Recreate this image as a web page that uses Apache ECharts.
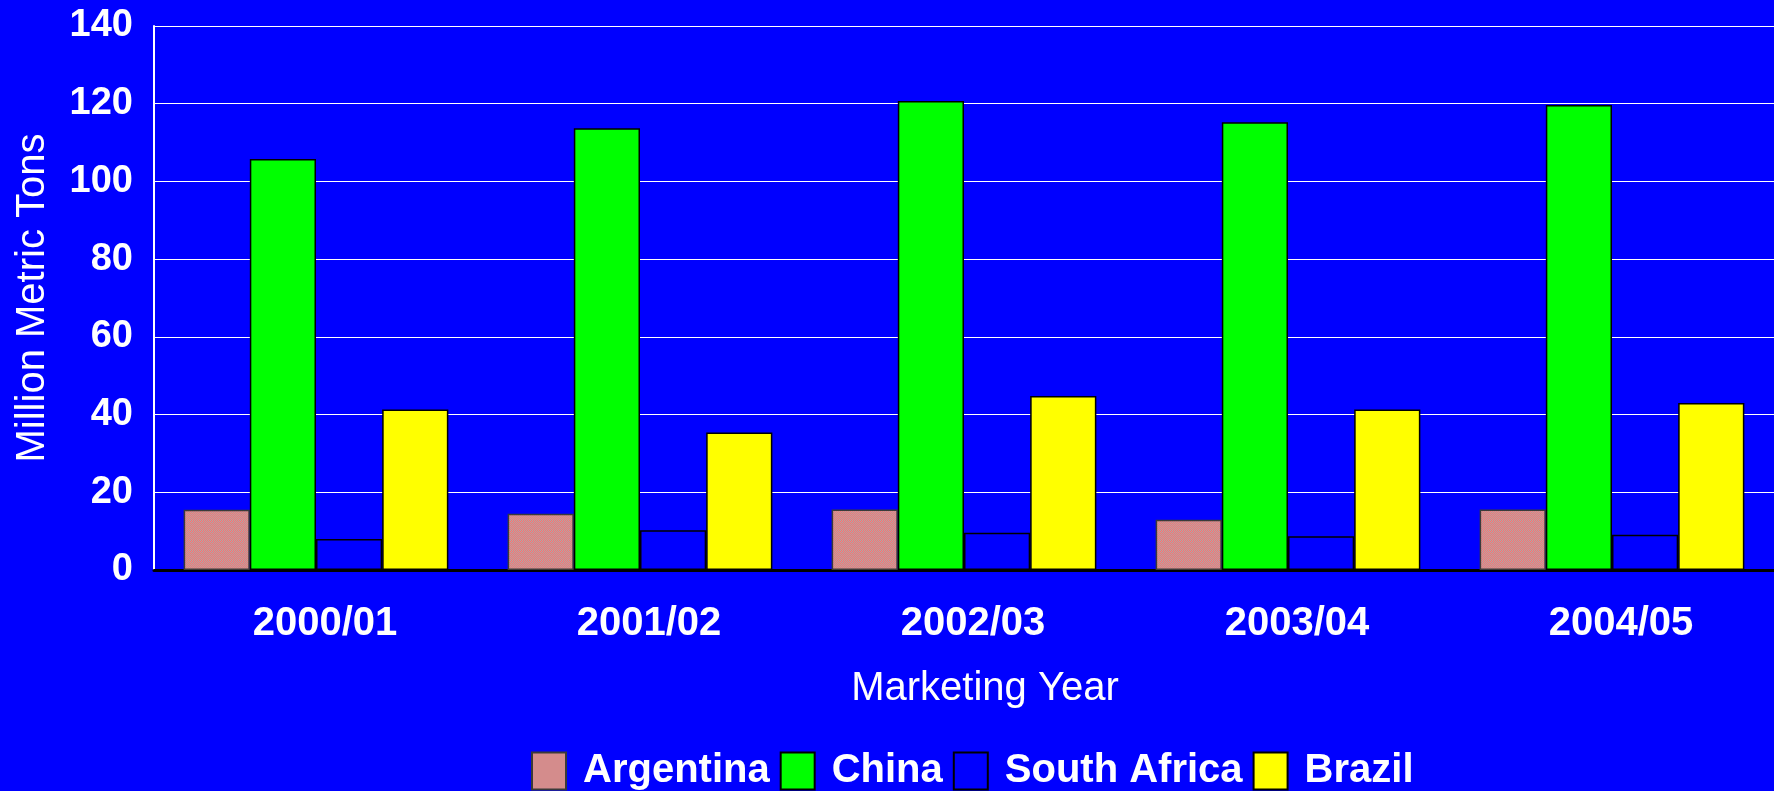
<!DOCTYPE html>
<html>
<head>
<meta charset="utf-8">
<script src="https://cdn.jsdelivr.net/npm/echarts@6/dist/echarts.min.js"></script>
<style>
html,body{margin:0;padding:0;background:#0000ff;}
#chart{width:1774px;height:791px;}
</style>
</head>
<body>
<div id="chart"></div>
<script>
const categories = ['2000/01', '2001/02', '2002/03', '2003/04', '2004/05'];
const argentina = [15.5, 14.5, 15.6, 12.9, 15.6];
const china = [105.8, 113.7, 120.7, 115.2, 119.7];
const southAfrica = [8.0, 10.2, 9.6, 8.7, 9.1];
const brazil = [41.3, 35.4, 44.8, 41.3, 43.0];
const yTicks = [0, 20, 40, 60, 80, 100, 120, 140];

const pc = document.createElement('canvas');
pc.width = 2; pc.height = 2;
const g = pc.getContext('2d');
g.fillStyle = '#ff6e6e'; g.fillRect(0, 0, 2, 2);
g.fillStyle = '#aaaaaa'; g.fillRect(0, 0, 1, 1); g.fillRect(1, 1, 1, 1);

const FONT = '"Liberation Sans", Arial, sans-serif';
const chart = echarts.init(document.getElementById('chart'));
chart.setOption({
  backgroundColor: '#0000ff',
  animation: false,
  grid: { left: 154, top: 26, height: 544, width: 1627, containLabel: false },
  legend: {
    left: 526, top: 746,
    icon: 'rect',
    itemWidth: 34, itemHeight: 37, itemGap: 10,
    textStyle: { color: '#ffffff', fontFamily: FONT, fontWeight: 'bold', fontSize: 40, padding: [0, 0, 0, 12] },
    data: ['Argentina', 'China', 'South Africa', 'Brazil']
  },
  xAxis: {
    type: 'category',
    data: categories,
    axisLine: { show: true, lineStyle: { color: '#000000', width: 3 } },
    axisTick: { show: false },
    axisLabel: { color: '#ffffff', fontFamily: FONT, fontWeight: 'bold', fontSize: 40, margin: 34, padding: [0, 0, 0, 18] },
    name: 'Marketing Year',
    nameLocation: 'middle',
    nameGap: 99,
    nameTextStyle: { color: '#ffffff', fontFamily: FONT, fontSize: 40, padding: [0, 0, 0, 42] }
  },
  yAxis: {
    type: 'value',
    min: yTicks[0], max: yTicks[yTicks.length - 1], interval: 20,
    axisLine: { show: true, lineStyle: { color: '#ffffff', width: 2 } },
    axisTick: { show: false },
    splitLine: { show: true, lineStyle: { color: '#ffffff', width: 1 } },
    axisLabel: { color: '#ffffff', fontFamily: FONT, fontWeight: 'bold', fontSize: 38, margin: 21, padding: [4, 0, 0, 0] },
    name: 'Million Metric Tons',
    nameLocation: 'middle',
    nameGap: 101,
    nameTextStyle: { color: '#ffffff', fontFamily: FONT, fontSize: 40 }
  },
  series: [
    { name: 'Argentina', type: 'bar', data: argentina, barGap: '0%', barCategoryGap: '18.3%',
      itemStyle: { color: { image: pc, repeat: 'repeat' }, borderColor: '#3a3a3a', borderWidth: 1.5 } },
    { name: 'China', type: 'bar', data: china,
      itemStyle: { color: '#00ff00', borderColor: '#000000', borderWidth: 1.5 } },
    { name: 'South Africa', type: 'bar', data: southAfrica,
      itemStyle: { color: '#0000ff', borderColor: '#000000', borderWidth: 1.5 } },
    { name: 'Brazil', type: 'bar', data: brazil,
      itemStyle: { color: '#ffff00', borderColor: '#000000', borderWidth: 1.5 } }
  ]
});
</script>
</body>
</html>
